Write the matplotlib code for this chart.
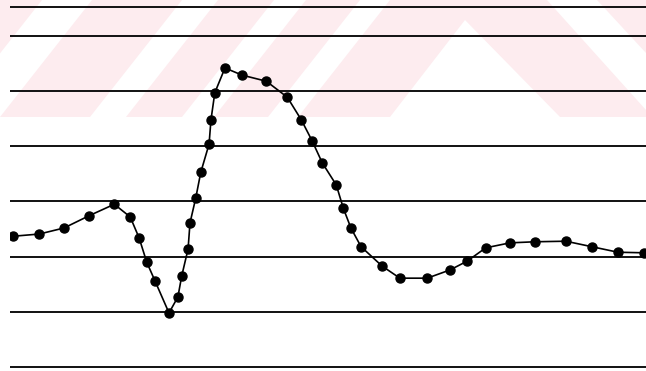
import numpy as np
import matplotlib
matplotlib.use("Agg")
import matplotlib.pyplot as plt

# ==================== data ====================
# x in arbitrary time units (0..100 across the frame), y in grid units
t = [0.5, 4.6, 8.5, 12.4, 16.4, 18.9, 20.3, 21.5, 22.8, 25.0,
     26.4, 27.0, 28.0, 28.3, 29.2, 30.0, 31.3, 31.6, 32.2, 33.8,
     36.5, 40.3, 43.6, 45.8, 47.5, 49.1, 51.3, 52.4, 53.6, 55.2,
     58.5, 61.3, 65.6, 69.2, 71.9, 74.8, 78.6, 82.6, 87.4, 91.5,
     95.6, 99.7]
signal = [2.37, 2.41, 2.52, 2.74, 2.95, 2.72, 2.34, 1.90, 1.56, 0.98,
          1.27, 1.65, 2.14, 2.61, 3.06, 3.53, 4.04, 4.48, 4.97, 5.42,
          5.29, 5.18, 4.89, 4.48, 4.10, 3.70, 3.30, 2.88, 2.52, 2.18,
          1.83, 1.61, 1.61, 1.76, 1.92, 2.16, 2.25, 2.27, 2.28, 2.18,
          2.08, 2.07]
grid_levels = [0, 1, 2, 3, 4, 5, 6]
frame_top = 6.53

W, H = 646, 371
fig = plt.figure(figsize=(W / 100, H / 100), dpi=100)

# --- faint pink watermark from the scanned page (pixel coords) ---
bg = fig.add_axes([0, 0, 1, 1], zorder=0)
bg.set_xlim(0, W)
bg.set_ylim(H, 0)
bg.axis("off")
pink = "#fdecef"
band = 117
shift = 92
bg.fill([0, W, W, 0], [0, 0, band, band], color=pink, lw=0)
for x0, w in [(-50, 50), (90, 36), (182, 32), (268, 30)]:
    bg.fill([x0, x0 + w, x0 + w + shift, x0 + shift],
            [band, band, 0, 0], color="white", lw=0)
bg.fill([390, 465, 560], [band, 20, band], color="white", lw=0)
bg.fill([547, 597, W, W], [0, 0, 53, 110], color="white", lw=0)

# --- main plot ---
ax = fig.add_axes([10 / W, 0, (W - 10) / W, 1], zorder=1)
ax.patch.set_alpha(0)
ax.set_xlim(0, 100)
ax.set_ylim(-0.0725, 6.652)
for lv in grid_levels:
    ax.axhline(lv, color="#111111", lw=1.4)
ax.axhline(frame_top, color="#111111", lw=1.4)

ax.plot(t, signal, color="black", lw=1.2, marker="o", ms=6.5,
        markerfacecolor="black", markeredgecolor="black")

for s in ax.spines.values():
    s.set_visible(False)
ax.set_xticks([])
ax.set_yticks([])

fig.savefig("out.png", dpi=100)
